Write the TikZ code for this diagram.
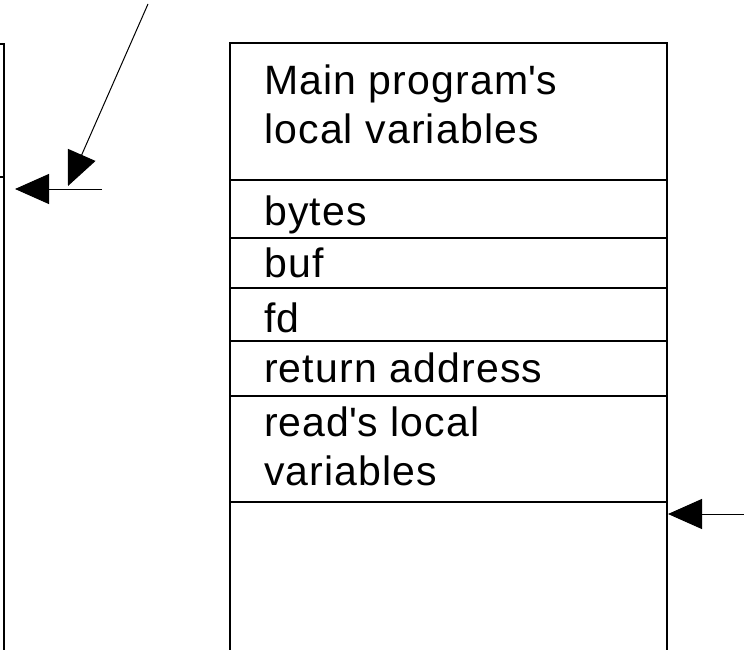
\documentclass[tikz,border=0pt]{standalone}
\usepackage{fontspec}
\setmainfont{Liberation Sans}[LetterSpace=2.8]
\usetikzlibrary{arrows.meta}
\newcommand{\q}{\textquotesingle}
\begin{document}
\begin{tikzpicture}[x=1pt,y=-1pt,
    cell/.style={draw=black,line width=1.3pt,rectangle,inner sep=0pt,outer sep=0pt,
      minimum width=437pt,anchor=north west},
    leftcell/.style={draw=black,line width=1.3pt,rectangle,inner sep=0pt,outer sep=0pt,
      minimum width=400pt,anchor=north east},
    label/.style={anchor=base west,inner sep=0pt,font=\fontsize{41}{48}\selectfont},
    ptr/.style={line width=1pt,-{Triangle[length=34pt,width=30pt]}}]
  \useasboundingbox (0,0) rectangle (744,650);
  \clip (0,0) rectangle (744,650);

  % stack frames on the left, only its right edge is in view
  \node[leftcell,minimum height=133pt] (la) at (4,44) {};
  \node[leftcell,minimum height=520pt] (lb) at (la.south east) {};

  % stack of the call to read
  \node[cell,minimum height=137pt] (main)  at (230,43)  {};
  \node[cell,minimum height=58pt]  (bytes) at (main.south west)  {};
  \node[cell,minimum height=50pt]  (buf)   at (bytes.south west) {};
  \node[cell,minimum height=53pt]  (fd)    at (buf.south west)   {};
  \node[cell,minimum height=55pt]  (ret)   at (fd.south west)    {};
  \node[cell,minimum height=106pt] (rloc)  at (ret.south west)   {};
  \node[cell,minimum height=200pt] (free)  at (rloc.south west)  {};

  \node[label] (t1) at (264,95)  {Main program\q s};
  \node[label] (t2) at (264,143) {local variables};
  \node[label] (t3) at (264,225) {bytes};
  \node[label] (t4) at (264,277) {buf};
  \node[label] (t5) at (264,332) {fd};
  \node[label] (t6) at (264,382) {return address};
  \node[label] (t7) at (264,436) {read\q s local};
  \node[label] (t8) at (264,485) {variables};

  % pointers
  \coordinate (spsrc) at (102,189);
  \coordinate (sptip) at (15,189);
  \coordinate (fpsrc) at (148,4);
  \coordinate (fptip) at (68,186);
  \coordinate (rsrc)  at (745,514);
  \coordinate (rtip)  at (668,514);
  \draw[ptr] (spsrc) -- (sptip);
  \draw[ptr] (fpsrc) -- (fptip);
  \draw[ptr] (rsrc) -- (rtip);
\end{tikzpicture}
\end{document}
